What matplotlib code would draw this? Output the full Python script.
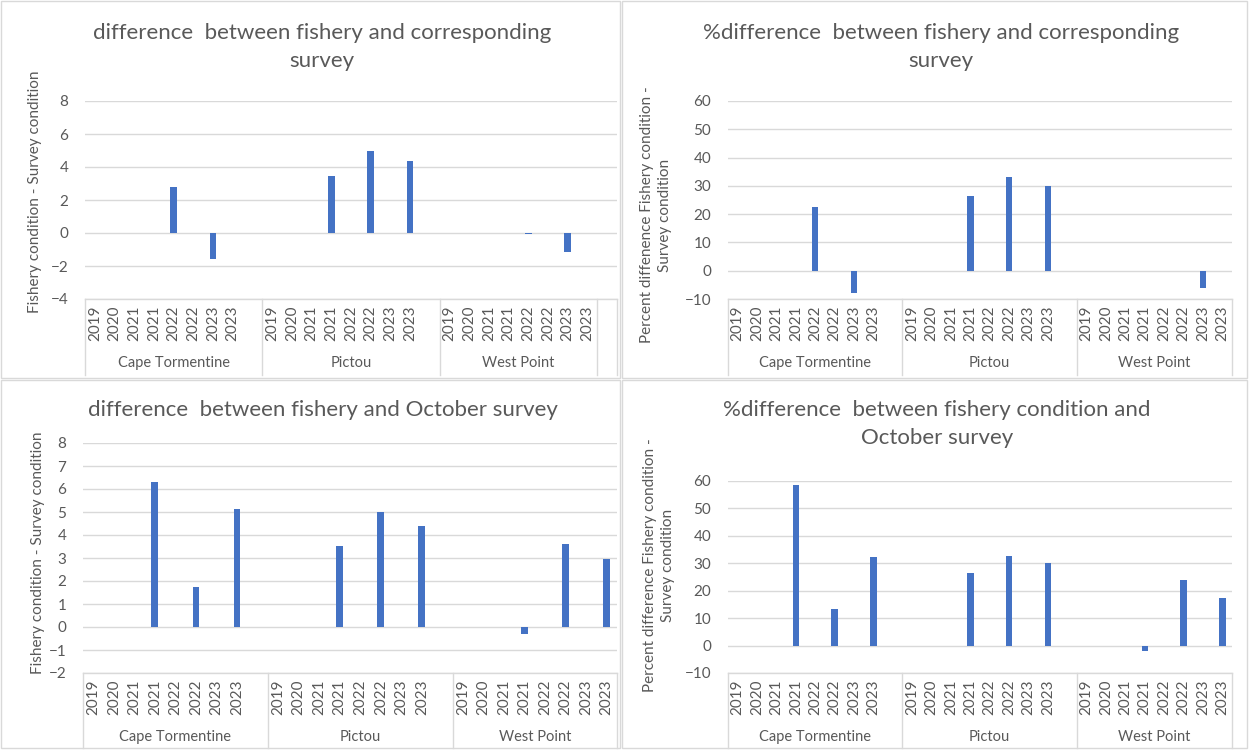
import numpy as np
import matplotlib
matplotlib.use("Agg")
import matplotlib.pyplot as plt
from matplotlib.transforms import blended_transform_factory
from matplotlib.lines import Line2D

plt.rcParams['font.family'] = ['Lato', 'DejaVu Sans']

nan = np.nan
years = ["2019", "2020", "2021", "2021", "2022", "2022", "2023", "2023"]
groups = ["Cape Tormentine", "Pictou", "West Point"]

# Panel 1: difference between fishery and corresponding survey
tl_ct = [nan, nan, nan, nan, 2.78, nan, -1.55, nan]
tl_pi = [nan, nan, nan, 3.48, nan, 4.99, nan, 4.38]
tl_wp = [nan, nan, nan, nan, -0.05, nan, -1.18, nan]
# Panel 2: %difference between fishery and corresponding survey
tr_ct = [nan, nan, nan, nan, 22.5, nan, -7.8, nan]
tr_pi = [nan, nan, nan, 26.4, nan, 33.0, nan, 30.1]
tr_wp = [nan, nan, nan, nan, nan, nan, -6.2, nan]
# Panel 3: difference between fishery and October survey
bl_ct = [nan, nan, nan, 6.3, nan, 1.72, nan, 5.15]
bl_pi = [nan, nan, nan, 3.52, nan, 5.0, nan, 4.38]
bl_wp = [nan, nan, nan, -0.3, nan, 3.6, nan, 2.95]
# Panel 4: %difference between fishery condition and October survey
br_ct = [nan, nan, nan, 58.7, nan, 13.2, nan, 32.2]
br_pi = [nan, nan, nan, 26.3, nan, 32.8, nan, 30.0]
br_wp = [nan, nan, nan, -2.0, nan, 24.0, nan, 17.3]

W, H = 1249, 750
fig = plt.figure(figsize=(W / 100, H / 100), dpi=100)
fig.patch.set_facecolor("white")

BLUE = "#4472C4"
GRID = "#D9D9D9"
TXT = "#595959"


def fx(px):
    return px / W


def fy(py):
    return 1 - py / H


# panel borders
for (x0, y0, x1, y1) in [(1, 1, 620, 378), (622, 1, 1247, 378), (1, 380, 620, 748), (622, 380, 1247, 748)]:
    fig.add_artist(plt.Rectangle((fx(x0), fy(y1)), fx(x1 - x0), (y1 - y0) / H,
                                 transform=fig.transFigure, fill=False, edgecolor=GRID, lw=1))


def panel(px_rect, vals, ylim, ystep, title, title_xy, ylabel, ylabel_xy, box_bottom,
          group_label_y, extra_blank=False):
    x0, x1, ytop, ybot = px_rect
    ax = fig.add_axes([fx(x0), fy(ybot), fx(x1 - x0), (ybot - ytop) / H])
    labels = []
    values = []
    bounds = []
    for gi, (g, v) in enumerate(zip(groups, vals)):
        labels += years
        values += list(v)
        if gi < len(groups) - 1:
            labels.append("")
            values.append(nan)
        bounds.append(len(labels) - 0.5)
    if extra_blank:
        labels.append("")
        values.append(nan)
        bounds.append(len(labels) - 0.5)
    n = len(labels)
    xs = np.arange(n)
    ax.bar(xs, values, width=0.33, color=BLUE, zorder=3)
    ax.set_xlim(-0.5, n - 0.5)
    ax.set_ylim(*ylim)
    ax.set_yticks(np.arange(ylim[0], ylim[1] + ystep / 2, ystep))
    ax.yaxis.grid(True, color=GRID, lw=1, zorder=0)
    ax.set_axisbelow(True)
    for s in ax.spines.values():
        s.set_visible(False)
    ax.tick_params(axis='y', length=0, pad=12, labelsize=11, labelcolor=TXT)
    ax.set_xticks(xs)
    ax.set_xticklabels(labels, rotation=90, fontsize=11, color=TXT)
    ax.tick_params(axis='x', length=0, pad=5)
    tr = blended_transform_factory(ax.transData, fig.transFigure)
    yb = fy(ybot)
    ye = fy(box_bottom)
    ax.add_artist(Line2D([-0.5, n - 0.5], [yb, yb], transform=tr, color=GRID, lw=1, clip_on=False))
    for b in [-0.5] + bounds:
        ax.add_artist(Line2D([b, b], [yb, ye], transform=tr, color=GRID, lw=1, clip_on=False))
    start = -0.5
    for g, b in zip(groups, bounds):
        ax.text((start + b) / 2, fy(group_label_y), g, transform=tr, ha="center", va="center",
                fontsize=10.5, color=TXT)
        start = b
    fig.text(fx(title_xy[0]), fy(title_xy[1]), title, ha="center", va="center",
             fontsize=16, color=TXT, linespacing=1.55)
    fig.text(fx(ylabel_xy[0]), fy(ylabel_xy[1]), ylabel, ha="center", va="center",
             rotation=90, fontsize=11, color=TXT, linespacing=1.45)
    return ax


panel((85, 617, 101, 299), [tl_ct, tl_pi, tl_wp], (-4, 8), 2,
      "difference  between fishery and corresponding\nsurvey", (322, 47),
      "Fishery condition - Survey condition", (35, 192), 375, 363, extra_blank=True)

panel((728, 1232, 101, 299), [tr_ct, tr_pi, tr_wp], (-10, 60), 10,
      "%difference  between fishery and corresponding\nsurvey", (941, 47),
      "Percent diffenence Fishery condition -\nSurvey condition", (656, 215), 375, 363)

panel((83, 617, 443, 673), [bl_ct, bl_pi, bl_wp], (-2, 8), 1,
      "difference  between fishery and October survey", (323, 410),
      "Fishery condition - Survey condition", (38, 553), 748, 737)

panel((728, 1232, 481, 673), [br_ct, br_pi, br_wp], (-10, 60), 10,
      "%difference  between fishery condition and\nOctober survey", (937, 424),
      "Percent difference Fishery condition -\nSurvey condition", (659, 565), 748, 737)

fig.savefig("out.png", dpi=100, facecolor="white")
